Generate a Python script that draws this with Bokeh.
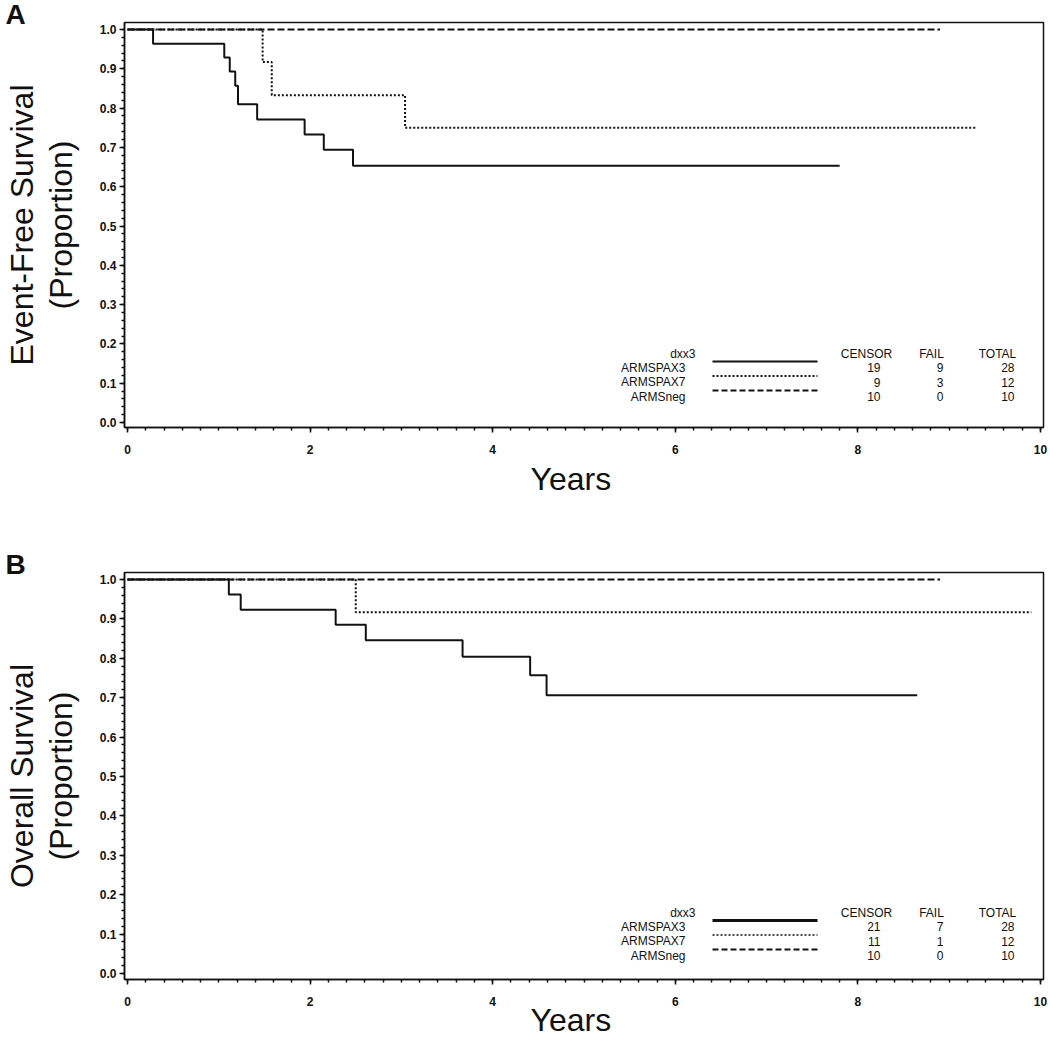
from bokeh.plotting import figure
from bokeh.layouts import column
from bokeh.models import (Range1d, SingleIntervalTicker, PrintfTickFormatter, Label,
                          Title, LinearAxis, FixedTicker)
from bokeh.embed import file_html
from bokeh.resources import INLINE

# ---------------- data ----------------
GROUPS = ["ARMSPAX3", "ARMSPAX7", "ARMSneg"]
LEGEND_HEAD = ["dxx3", "CENSOR", "FAIL", "TOTAL"]
X_TITLE = "Years"

# Panel A: event-free survival
EFS_PAX3_T = [0.0, 0.28, 1.06, 1.12, 1.18, 1.21, 1.42, 1.94, 2.15, 2.47]
EFS_PAX3_S = [1.000, 0.964, 0.929, 0.893, 0.857, 0.810, 0.771, 0.733, 0.694, 0.653]
EFS_PAX3_END = 7.8
EFS_PAX7_T = [0.0, 1.48, 1.58, 3.04]
EFS_PAX7_S = [1.000, 0.917, 0.833, 0.750]
EFS_PAX7_END = 9.3
EFS_NEG_T = [0.0]
EFS_NEG_S = [1.000]
EFS_NEG_END = 8.9
EFS_CENSOR = [19, 9, 10]
EFS_FAIL = [9, 3, 0]
EFS_TOTAL = [28, 12, 10]

# Panel B: overall survival
OS_PAX3_T = [0.0, 1.11, 1.24, 2.28, 2.61, 3.67, 4.41, 4.59]
OS_PAX3_S = [1.000, 0.962, 0.923, 0.885, 0.846, 0.804, 0.757, 0.706]
OS_PAX3_END = 8.65
OS_PAX7_T = [0.0, 2.50]
OS_PAX7_S = [1.000, 0.917]
OS_PAX7_END = 9.9
OS_NEG_T = [0.0]
OS_NEG_S = [1.000]
OS_NEG_END = 8.9
OS_CENSOR = [21, 11, 10]
OS_FAIL = [7, 1, 0]
OS_TOTAL = [28, 12, 10]

# ---------------- layout (canvas pixels) ----------------
FONT = "Liberation Sans"
INK = "#111111"
W = 1050
X0 = 127.0           # pixel x of year 0
SX = 91.3            # px per year
FRAME_L, FRAME_R = 124.0, 1043.0

CURVE_STYLES = [
    dict(line_dash="solid", line_width=2),
    dict(line_dash="2 2", line_width=2),
    dict(line_dash="7 3", line_width=2),
]


def make_panel(cfg, series, censor, fail, total, letter, ytitle):
    top = cfg["canvas_top"]
    H = cfg["height"]
    y0p, sy = cfg["y0"], cfg["sy"]

    def px(x):
        return (x - X0) / SX

    def py(y):
        return (y0p - y) / sy

    p = figure(width=W, height=H, output_backend="svg", toolbar_location=None,
               tools="", title=None,
               x_range=Range1d(px(FRAME_L), px(FRAME_R)),
               y_range=Range1d(py(cfg["frame_bottom"]), py(cfg["frame_top"])),
               min_border_left=int(FRAME_L), min_border_right=int(W - FRAME_R),
               min_border_top=int(cfg["frame_top"] - top),
               min_border_bottom=int(H - (cfg["frame_bottom"] - top)))
    p.background_fill_color = "white"
    p.border_fill_color = "white"
    p.outline_line_color = INK
    p.outline_line_width = 1.5
    p.xgrid.visible = False
    p.ygrid.visible = False

    # panel letter (title above, pulled down beside the frame top)
    p.title = Title(text=letter, align="left", offset=5 - FRAME_L,
                    standoff=cfg["letter_standoff"], text_font=FONT,
                    text_font_style="bold", text_font_size="28px", text_color=INK)

    p.xaxis.ticker = SingleIntervalTicker(interval=2, num_minor_ticks=10)
    p.yaxis.ticker = SingleIntervalTicker(interval=0.1, num_minor_ticks=5)
    p.yaxis.formatter = PrintfTickFormatter(format="%.1f")
    for ax in (p.xaxis, p.yaxis):
        ax.axis_line_color = INK
        ax.axis_line_width = 1.5
        ax.major_tick_line_color = INK
        ax.major_tick_line_width = 1.5
        ax.minor_tick_line_color = INK
        ax.minor_tick_line_width = 1.5
        ax.major_tick_in = 0
        ax.major_tick_out = 5
        ax.minor_tick_in = 0
        ax.minor_tick_out = 3
        ax.major_label_text_font = FONT
        ax.major_label_text_font_style = "bold"
        ax.major_label_text_font_size = "12px"
        ax.major_label_text_color = INK
        ax.axis_label_text_font = FONT
        ax.axis_label_text_font_style = "normal"
        ax.axis_label_text_font_size = "32px"
        ax.axis_label_text_line_height = 1.0
        ax.axis_label_text_color = INK
    p.xaxis.major_label_standoff = 12
    p.yaxis.major_label_standoff = 3

    # y title: inner line on the y axis, outer line on a bare extra axis
    p.yaxis.axis_label = ytitle[1]
    p.yaxis.axis_label_standoff = 18
    outer = LinearAxis(ticker=FixedTicker(ticks=[]), axis_label=ytitle[0],
                       axis_label_standoff=0, axis_line_color=None,
                       major_tick_line_color=None, minor_tick_line_color=None,
                       major_tick_out=0, minor_tick_out=0, major_label_standoff=0,
                       major_label_text_font_size="1px",
                       axis_label_text_font=FONT, axis_label_text_font_style="normal",
                       axis_label_text_font_size="32px", axis_label_text_line_height=1.0,
                       axis_label_text_color=INK)
    p.add_layout(outer, "left")

    # x title
    p.add_layout(Title(text=X_TITLE, align="left", offset=530 - FRAME_L,
                       vertical_align="top", standoff=cfg["xtitle_standoff"],
                       text_font=FONT, text_font_style="normal",
                       text_font_size="32px", text_color=INK), "below")

    # survival curves
    for (t, s, end), st in zip(series, CURVE_STYLES):
        xs = list(t) + [end]
        ys = list(s) + [s[-1]]
        p.step(xs, ys, mode="after", line_color=INK, **st)

    # legend table
    rows = cfg["legend_rows"]

    def lab(x, y, text, align):
        p.add_layout(Label(x=px(x), y=py(y), text=str(text), text_font=FONT,
                           text_font_size="12px", text_color=INK,
                           text_align=align, text_baseline="middle"))
    lab(695, rows[0], LEGEND_HEAD[0], "right")
    lab(866, rows[0], LEGEND_HEAD[1], "center")
    lab(931, rows[0], LEGEND_HEAD[2], "center")
    lab(997, rows[0], LEGEND_HEAD[3], "center")
    for i, g in enumerate(GROUPS):
        yy = rows[i + 1]
        lab(685, yy, g, "right")
        lab(880, yy, censor[i], "right")
        lab(943, yy, fail[i], "right")
        lab(1014, yy, total[i], "right")
        st = dict(CURVE_STYLES[i])
        st.update(cfg["legend_styles"][i])
        p.segment(x0=[px(712)], y0=[py(yy - 6)], x1=[px(817)], y1=[py(yy - 6)],
                  line_color=INK, **st)
    return p


CFG_A = dict(canvas_top=0, height=548, frame_top=22, frame_bottom=427,
             y0=422.0, sy=393.0, letter_standoff=-14, xtitle_standoff=8,
             legend_rows=[353, 367, 381.5, 396],
             legend_styles=[dict(line_width=2), dict(), dict(line_dash="6 3")])
CFG_B = dict(canvas_top=548, height=492, frame_top=572, frame_bottom=979,
             y0=973.0, sy=394.0, letter_standoff=-14, xtitle_standoff=-14,
             legend_rows=[912, 926, 940.5, 955],
             legend_styles=[dict(line_width=3), dict(line_width=1.5), dict(line_dash="6 3")])

pA = make_panel(CFG_A,
                [(EFS_PAX3_T, EFS_PAX3_S, EFS_PAX3_END),
                 (EFS_PAX7_T, EFS_PAX7_S, EFS_PAX7_END),
                 (EFS_NEG_T, EFS_NEG_S, EFS_NEG_END)],
                EFS_CENSOR, EFS_FAIL, EFS_TOTAL, "A", ["Event-Free Survival", "(Proportion)"])
pB = make_panel(CFG_B,
                [(OS_PAX3_T, OS_PAX3_S, OS_PAX3_END),
                 (OS_PAX7_T, OS_PAX7_S, OS_PAX7_END),
                 (OS_NEG_T, OS_NEG_S, OS_NEG_END)],
                OS_CENSOR, OS_FAIL, OS_TOTAL, "B", ["Overall Survival", "(Proportion)"])

layout = column(pA, pB, spacing=0)
open("out.html", "w").write(file_html(layout, INLINE))
